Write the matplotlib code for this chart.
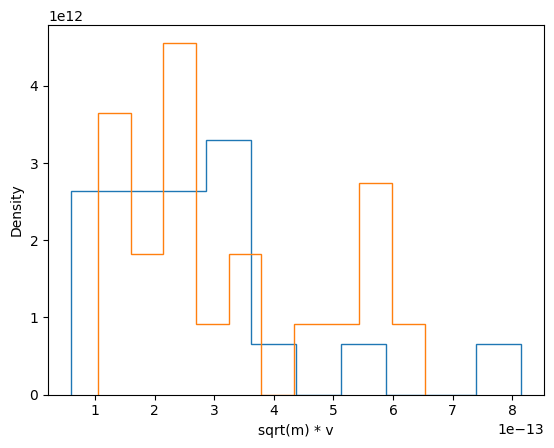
import numpy as np
import matplotlib.pyplot as plt

# histogram: 10 bins each, 20 samples per group
blue_lo, blue_hi = 0.585e-13, 8.156e-13
blue_counts = [4, 4, 4, 5, 1, 0, 1, 0, 0, 1]

orange_lo, orange_hi = 1.045e-13, 6.528e-13
orange_counts = [4, 2, 5, 1, 2, 0, 1, 1, 3, 1]


def drawHist(ax, lo, hi, counts):
    edges = np.linspace(lo, hi, len(counts) + 1)
    ax.hist(edges[:-1], bins=edges, weights=counts, density=True, histtype='step')


fig = plt.figure(figsize=(5.54, 4.48), dpi=100)
ax = fig.add_axes([0.0866, 0.119, 0.8954, 0.825])
drawHist(ax, blue_lo, blue_hi, blue_counts)
drawHist(ax, orange_lo, orange_hi, orange_counts)
ax.set_xlabel("sqrt(m) * v")
ax.set_ylabel("Density")
fig.savefig("out.png", dpi=100)
